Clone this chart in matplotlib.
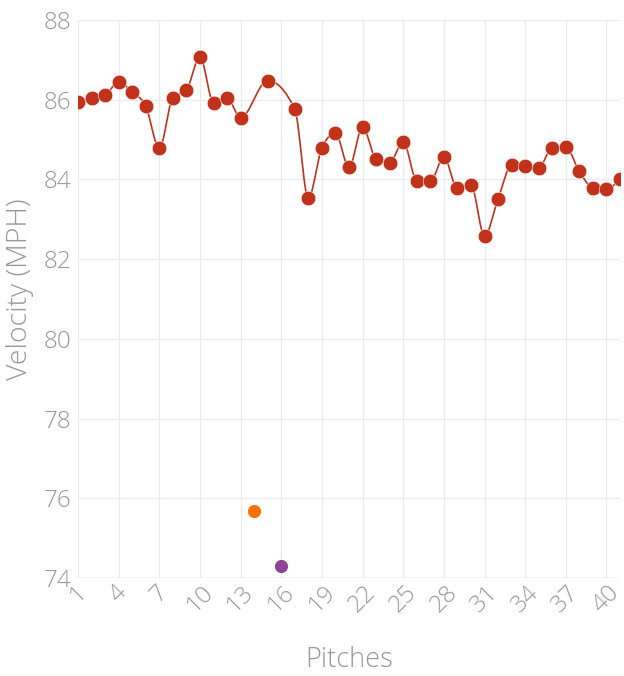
import numpy as np
import matplotlib
matplotlib.use("Agg")
import matplotlib.pyplot as plt

# Pitch velocities (MPH)
main_pitches = [1, 2, 3, 4, 5, 6, 7, 8, 9, 10, 11, 12, 13, 15, 17, 18, 19, 20, 21,
                22, 23, 24, 25, 26, 27, 28, 29, 30, 31, 32, 33, 34, 35, 36, 37, 38,
                39, 40, 41]
main_velocity = [85.95, 86.04, 86.12, 86.44, 86.19, 85.84, 84.78, 86.05, 86.24, 87.08,
                 85.93, 86.04, 85.55, 86.48, 85.76, 83.53, 84.80, 85.16, 84.30, 85.31,
                 84.52, 84.42, 84.95, 83.97, 83.95, 84.56, 83.78, 83.86, 82.58, 83.51,
                 84.36, 84.34, 84.29, 84.80, 84.81, 84.20, 83.79, 83.76, 84.02]
orange_pitches = [14]
orange_velocity = [75.68]
purple_pitches = [16]
purple_velocity = [74.30]

x_ticks = list(range(1, 42, 3))
y_ticks = list(range(74, 89, 2))

RED = "#c2311a"
GRAY = "#999999"


def monotone_curve(xs, ys, n=20):
    # monotone cubic (like d3.curveMonotoneX) for drawing the line
    xs = np.asarray(xs, float)
    ys = np.asarray(ys, float)
    h = np.diff(xs)
    s = np.diff(ys) / h
    t = np.zeros(len(xs))
    for i in range(1, len(xs) - 1):
        p = (s[i - 1] * h[i] + s[i] * h[i - 1]) / (h[i - 1] + h[i])
        t[i] = (np.sign(s[i - 1]) + np.sign(s[i])) * min(abs(s[i - 1]), abs(s[i]), 0.5 * abs(p))
    t[0] = (3 * s[0] - t[1]) / 2
    t[-1] = (3 * s[-1] - t[-2]) / 2
    out_x, out_y = [], []
    for i in range(len(xs) - 1):
        u = np.linspace(0, 1, n)
        h00 = 2 * u**3 - 3 * u**2 + 1
        h10 = u**3 - 2 * u**2 + u
        h01 = -2 * u**3 + 3 * u**2
        h11 = u**3 - u**2
        out_x.extend(xs[i] + u * h[i])
        out_y.extend(h00 * ys[i] + h10 * h[i] * t[i] + h01 * ys[i + 1] + h11 * h[i] * t[i + 1])
    return out_x, out_y


plt.rcParams['font.family'] = ['Open Sans', 'DejaVu Sans']

fig = plt.figure(figsize=(6.24, 6.76), dpi=100)
ax = fig.add_axes([78 / 624, 1 - 578 / 676, 542 / 624, 558 / 676])

cx, cy = monotone_curve(main_pitches, main_velocity)
ax.plot(cx, cy, color=RED, linewidth=1.2, zorder=3)
ax.plot(main_pitches, main_velocity, "o", color=RED, markersize=10.5,
        markeredgecolor="white", markeredgewidth=0.4, zorder=4)
ax.plot(orange_pitches, orange_velocity, "o", color="#ff7000", markersize=9.5,
        markeredgewidth=0, zorder=4)
ax.plot(purple_pitches, purple_velocity, "o", color="#8f4495", markersize=9.5,
        markeredgewidth=0, zorder=4)

ax.set_xlim(1, 41)
ax.set_ylim(74, 88)
ax.set_xticks(x_ticks)
ax.set_yticks(y_ticks)
ax.set_xticklabels([str(v) for v in x_ticks], rotation=45, ha="center", va="top")
ax.tick_params(axis="both", length=0, labelsize=17.5, labelcolor=GRAY)
ax.tick_params(axis="y", pad=5)
ax.tick_params(axis="x", pad=2)
for lab in ax.get_xticklabels() + ax.get_yticklabels():
    lab.set_fontweight("light")

ax.grid(True, color="#ebebeb", linewidth=0.9)
ax.set_axisbelow(True)
for sp in ax.spines.values():
    sp.set_visible(False)
ax.axhline(74, color="#e0e0e0", linewidth=1, zorder=1)

fig.text(349 / 624, 1 - 660 / 676, "Pitches", ha="center", va="center",
         fontsize=19.5, color=GRAY, fontweight="light")
fig.text(20 / 624, 1 - 289 / 676, "Velocity (MPH)", ha="center", va="center",
         rotation=90, fontsize=20.5, color=GRAY, fontweight="light")

fig.savefig("out.png", dpi=100)
